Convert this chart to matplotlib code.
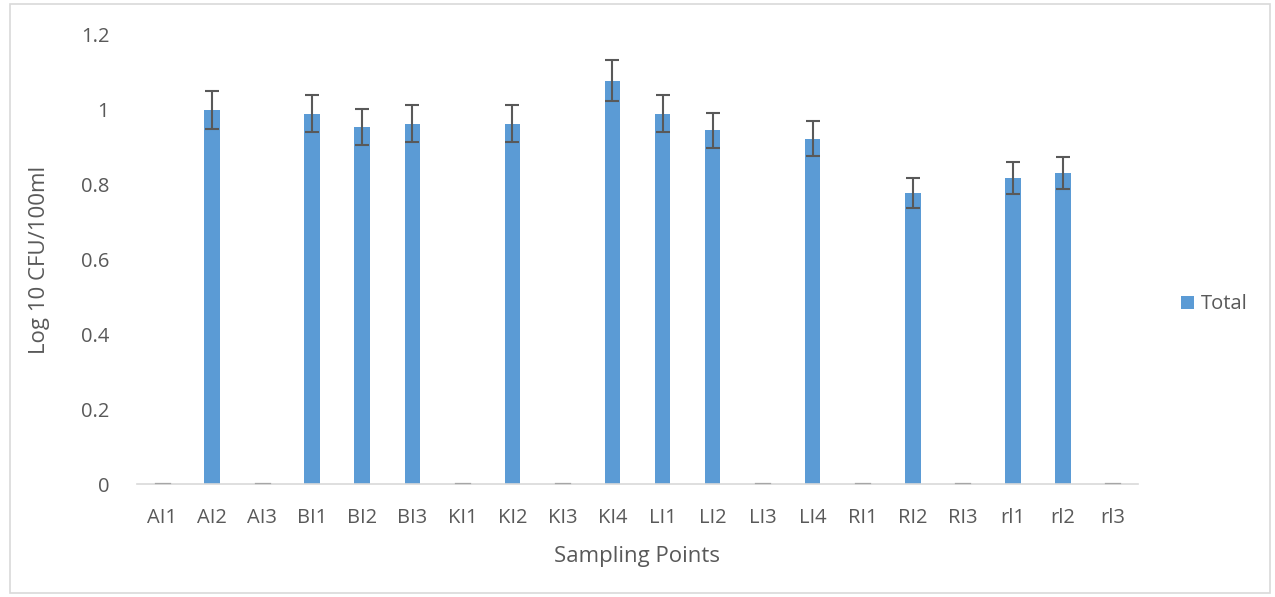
import matplotlib
matplotlib.use("Agg")
import matplotlib.pyplot as plt
import numpy as np
from matplotlib.patches import Rectangle

categories = ["AI1", "AI2", "AI3", "BI1", "BI2", "BI3", "KI1", "KI2", "KI3", "KI4",
              "LI1", "LI2", "LI3", "LI4", "RI1", "RI2", "RI3", "rl1", "rl2", "rl3"]
values = [0, 1.0, 0, 0.99, 0.953, 0.963, 0, 0.963, 0, 1.078,
          0.99, 0.945, 0, 0.923, 0, 0.778, 0, 0.818, 0.832, 0]
errors = [0, 0.05, 0, 0.05, 0.048, 0.05, 0, 0.05, 0, 0.054,
          0.05, 0.047, 0, 0.047, 0, 0.04, 0, 0.042, 0.043, 0]
yticks = [0, 0.2, 0.4, 0.6, 0.8, 1.0, 1.2]
ytick_labels = ["0", "0.2", "0.4", "0.6", "0.8", "1", "1.2"]

plt.rcParams['font.family'] = ['Open Sans', 'DejaVu Sans']
text_color = "#595959"
bar_color = "#5B9BD5"

fig = plt.figure(figsize=(12.75, 5.97), dpi=100)
ax = fig.add_axes([137/1275, 1 - 484/597, (1138-137)/1275, (484-35)/597])

x = np.arange(len(categories))
ax.bar(x, values, width=0.31, color=bar_color, label="Total", zorder=2)
# thin marker line for zero bars
for xi, v in zip(x, values):
    if v == 0:
        ax.plot([xi - 0.15, xi + 0.15], [0.004, 0.004], color="#A6A6A6", lw=0.9, zorder=3,
                clip_on=False)
mask = np.array(values) > 0
ax.errorbar(x[mask], np.array(values)[mask], yerr=np.array(errors)[mask], fmt="none",
            ecolor="#595959", elinewidth=1.5, capsize=5, capthick=1.5, zorder=4)

ax.set_xlim(-0.5, len(categories) - 0.5)
ax.set_ylim(0, 1.2)
ax.set_yticks(yticks)
ax.set_yticklabels(ytick_labels)
ax.set_xticks(x)
ax.set_xticklabels(categories)

for s in ["top", "right", "left"]:
    ax.spines[s].set_visible(False)
ax.spines["bottom"].set_color("#D9D9D9")
ax.spines["bottom"].set_linewidth(1.2)
ax.tick_params(axis="both", length=0, labelsize=14.5, labelcolor=text_color)
ax.tick_params(axis="y", pad=20)
ax.tick_params(axis="x", pad=17)

ax.set_ylabel("Log 10 CFU/100ml", fontsize=16, color=text_color, labelpad=22)
ax.set_xlabel("Sampling Points", fontsize=16, color=text_color, labelpad=13)

leg = ax.legend(loc="center left", bbox_to_anchor=(1.025, 0.40), frameon=False,
                fontsize=14.5, handlelength=0.65, handleheight=0.65, handletextpad=0.35)
for t in leg.get_texts():
    t.set_color(text_color)

fig.patches.append(Rectangle((10/1275, 4/597), 1260/1275, 589/597, transform=fig.transFigure,
                             fill=False, edgecolor="#D9D9D9", lw=1.2))

fig.savefig("out.png", dpi=100)
